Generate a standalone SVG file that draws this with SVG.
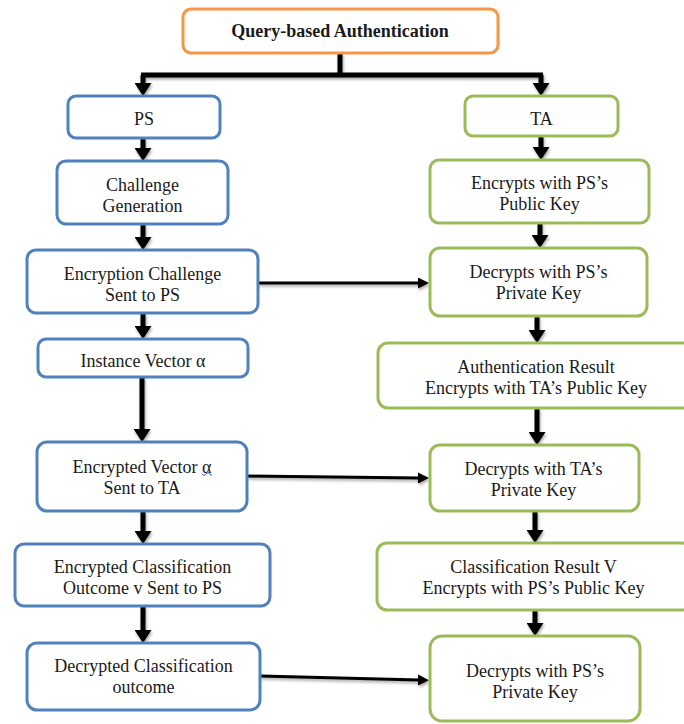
<svg xmlns="http://www.w3.org/2000/svg" width="684" height="724" viewBox="0 0 684 724">
  <style>
    .box { fill: #ffffff; stroke-width: 3; }
    .ps { stroke: #4f81bd; }
    .ta { stroke: #9bbb59; }
    .root { stroke: #f79646; }
    text { font-family: "Liberation Serif", "Times New Roman", serif; font-size: 18px; fill: #1a1a1a; text-anchor: middle; }
    .title { font-weight: bold; }
    .thick { stroke: #000; stroke-width: 5; fill: none; }
    .thin { stroke: #000; stroke-width: 3; fill: none; }
  </style>
  <defs>
    <marker id="headBig" markerUnits="userSpaceOnUse" viewBox="0 0 13 17" markerWidth="13" markerHeight="17" refX="1" refY="8.5" orient="auto">
      <path d="M0,0 L13,8.5 L0,17 z" fill="#000"/>
    </marker>
    <marker id="headSmall" markerUnits="userSpaceOnUse" viewBox="0 0 11 11" markerWidth="11" markerHeight="11" refX="1" refY="5.5" orient="auto">
      <path d="M0,0 L11,5.5 L0,11 z" fill="#000"/>
    </marker>
    <filter id="shadow" x="-20%" y="-20%" width="140%" height="140%">
      <feDropShadow dx="1" dy="2" stdDeviation="1.5" flood-color="#000" flood-opacity="0.35"/>
    </filter>
  </defs>

  <!-- connectors -->
  <g id="connectors" filter="url(#shadow)">
    <path class="thick" d="M340,53 V75" stroke-width="6"/>
    <path class="thick" d="M141,75 H543" stroke-width="6"/>
    <path class="thick" d="M143,75 V84" marker-end="url(#headBig)"/>
    <path class="thick" d="M541,75 V84" marker-end="url(#headBig)"/>

    <path class="thick" d="M143,138 V149" marker-end="url(#headBig)"/>
    <path class="thick" d="M143,224 V238" marker-end="url(#headBig)"/>
    <path class="thick" d="M143,313 V327" marker-end="url(#headBig)"/>
    <path class="thick" d="M142,377 V430" marker-end="url(#headBig)"/>
    <path class="thick" d="M143,511 V532" marker-end="url(#headBig)"/>
    <path class="thick" d="M143,606 V631" marker-end="url(#headBig)"/>

    <path class="thick" d="M541,136 V148" marker-end="url(#headBig)"/>
    <path class="thick" d="M540,223 V236" marker-end="url(#headBig)"/>
    <path class="thick" d="M537,316 V331" marker-end="url(#headBig)"/>
    <path class="thick" d="M537,408 V433" marker-end="url(#headBig)"/>
    <path class="thick" d="M535,511 V531" marker-end="url(#headBig)"/>
    <path class="thick" d="M535,610 V624" marker-end="url(#headBig)"/>

    <path class="thin" d="M258,283 L419,283" marker-end="url(#headSmall)"/>
    <path class="thin" d="M247,476 L419,478" marker-end="url(#headSmall)"/>
    <path class="thin" d="M260,676 L419,680" marker-end="url(#headSmall)"/>
  </g>

  <!-- root -->
  <g id="query-auth">
    <rect class="box root" x="183" y="9" width="315" height="44" rx="8"/>
    <text class="title" x="340" y="37">Query-based Authentication</text>
  </g>

  <!-- PS column -->
  <g id="ps">
    <rect class="box ps" x="68" y="96" width="152" height="42" rx="8"/>
    <text x="144" y="125">PS</text>
  </g>
  <g id="challenge-generation">
    <rect class="box ps" x="57" y="161" width="171" height="63" rx="9"/>
    <text x="142.5" y="191">Challenge</text>
    <text x="142.5" y="212">Generation</text>
  </g>
  <g id="encryption-challenge">
    <rect class="box ps" x="27" y="250" width="231" height="63" rx="9"/>
    <text x="142.5" y="280">Encryption Challenge</text>
    <text x="142.5" y="301">Sent to PS</text>
  </g>
  <g id="instance-vector">
    <rect class="box ps" x="38" y="339" width="210" height="38" rx="8"/>
    <text x="143" y="367">Instance Vector α</text>
  </g>
  <g id="encrypted-vector">
    <rect class="box ps" x="37" y="442" width="210" height="69" rx="10"/>
    <text x="142" y="473">Encrypted Vector α</text>
    <text x="142" y="494">Sent to TA</text>
    <path d="M202,474 q2,3 4,0 q2,-3 4,0 q1,2 2,1" fill="none" stroke="#3050d0" stroke-width="1"/>
  </g>
  <g id="encrypted-classification">
    <rect class="box ps" x="15" y="544" width="255" height="62" rx="9"/>
    <text x="142.5" y="573">Encrypted Classification</text>
    <text x="142.5" y="594">Outcome v Sent to PS</text>
  </g>
  <g id="decrypted-classification">
    <rect class="box ps" x="27" y="643" width="233" height="67" rx="10"/>
    <text x="143.5" y="672">Decrypted Classification</text>
    <text x="143.5" y="693">outcome</text>
  </g>

  <!-- TA column -->
  <g id="ta">
    <rect class="box ta" x="465" y="96" width="153" height="40" rx="8"/>
    <text x="541.5" y="125">TA</text>
  </g>
  <g id="ta-encrypts-ps-public">
    <rect class="box ta" x="430" y="160" width="219" height="63" rx="9"/>
    <text x="539.5" y="189">Encrypts with PS’s</text>
    <text x="539.5" y="210">Public Key</text>
  </g>
  <g id="ta-decrypts-ps-private">
    <rect class="box ta" x="430" y="248" width="217" height="68" rx="10"/>
    <text x="538.5" y="278">Decrypts with PS’s</text>
    <text x="538.5" y="299">Private Key</text>
  </g>
  <g id="authentication-result">
    <rect class="box ta" x="378" y="343" width="318" height="65" rx="10"/>
    <text x="536" y="373">Authentication Result</text>
    <text x="536" y="394">Encrypts with TA’s Public Key</text>
  </g>
  <g id="ta-decrypts-ta-private">
    <rect class="box ta" x="430" y="445" width="209" height="66" rx="10"/>
    <text x="533.5" y="475">Decrypts with TA’s</text>
    <text x="533.5" y="496">Private Key</text>
  </g>
  <g id="classification-result">
    <rect class="box ta" x="377" y="543" width="315" height="67" rx="10"/>
    <text x="533.5" y="573">Classification Result V</text>
    <text x="533.5" y="594">Encrypts with PS’s Public Key</text>
  </g>
  <g id="final-decrypts-ps-private">
    <rect class="box ta" x="430" y="636" width="210" height="85" rx="12"/>
    <text x="535" y="677">Decrypts with PS’s</text>
    <text x="535" y="698">Private Key</text>
  </g>
</svg>
